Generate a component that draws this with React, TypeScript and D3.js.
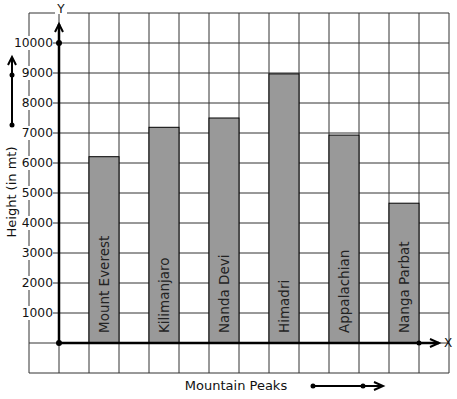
import * as d3 from "d3";
import React from "react";

// mountains and their heights (in mt)
const peaks: string[] = ["Mount Everest", "Kilimanjaro", "Nanda Devi", "Himadri", "Appalachian", "Nanga Parbat"];
const heights: number[] = [6210, 7190, 7500, 8970, 6930, 4660];
const yTicks: number[] = [1000, 2000, 3000, 4000, 5000, 6000, 7000, 8000, 9000, 10000];

const W = 457;
const H = 399;
const FONT = "DejaVu Sans, sans-serif";

const App = () => {
  // one grid cell = one unit on x, 1000 on y
  const x = d3.scaleLinear().domain([-1, 13]).range([29, 449]);
  const y = d3.scaleLinear().domain([-1000, 11000]).range([373, 13]);
  const cols = d3.range(-1, 14);
  const rows = d3.range(-1000, 11001, 1000);
  const x0 = x(0);
  const y0 = y(0);

  const chevronUp = (cx: number, cy: number) => `M${cx - 4},${cy + 8}L${cx},${cy}L${cx + 4},${cy + 8}`;
  const chevronRight = (cx: number, cy: number) => `M${cx - 9},${cy - 4}L${cx},${cy}L${cx - 9},${cy + 4}`;

  return (
    <svg width={W} height={H} style={{ position: "absolute", left: 0, top: 0, background: "#fff" }}>
      <rect width={W} height={H} fill="#fff" />
      {/* grid */}
      <g stroke="#333" strokeWidth={1}>
        {cols.map((c) => (
          <line key={"c" + c} x1={x(c)} x2={x(c)} y1={y(11000)} y2={y(-1000)} />
        ))}
        {rows.map((r) => (
          <line key={"r" + r} x1={x(-1)} x2={x(13)} y1={y(r)} y2={y(r)} />
        ))}
      </g>

      {/* bars */}
      {peaks.map((p, i) => {
        const c = 1 + 2 * i;
        return (
          <g key={p}>
            <rect x={x(c)} y={y(heights[i])} width={x(c + 1) - x(c)} height={y0 - y(heights[i])}
              fill="#999" stroke="#000" strokeWidth={1} />
            <text transform={`translate(${(x(c) + x(c + 1)) / 2 + 5},${y0 - 10}) rotate(-90)`}
              fontFamily={FONT} fontSize={13.5} fill="#222">{p}</text>
          </g>
        );
      })}

      {/* y tick labels with white backing */}
      {yTicks.map((t) => {
        const w = String(t).length * 7.8;
        return (
          <g key={t}>
            <rect x={53 - w - 1} y={y(t) - 7} width={w + 1} height={14} fill="#fff" />
            <text x={53} y={y(t)} dy="0.35em" textAnchor="end" fontFamily={FONT} fontSize={12.3} fill="#111">{t}</text>
          </g>
        );
      })}

      {/* axes */}
      <g stroke="#000" strokeWidth={2.5} fill="none">
        <line x1={x0} x2={x0} y1={y0} y2={24} />
        <path d={chevronUp(x0, 24)} strokeWidth={2} />
        <line x1={x0} x2={439} y1={y0} y2={y0} />
        <path d={chevronRight(439, y0)} strokeWidth={2} />
      </g>
      <circle cx={x0} cy={y0} r={3} fill="#000" />
      <circle cx={x0} cy={y(10000)} r={3} fill="#000" />
      <circle cx={x(12)} cy={y0} r={2.5} fill="#000" />

      <rect x={55} y={2} width={12} height={12} fill="#fff" />
      <text x={61} y={9} dy="0.35em" textAnchor="middle" fontFamily={FONT} fontSize={12} fill="#111">Y</text>
      <text x={448} y={y0} dy="0.35em" textAnchor="middle" fontFamily={FONT} fontSize={12} fill="#111">X</text>

      {/* axis titles */}
      <text transform={`translate(16,${192}) rotate(-90)`} textAnchor="middle" fontFamily={FONT} fontSize={13} fill="#111">
        Height (in mt)
      </text>
      <text x={236} y={390} textAnchor="middle" fontFamily={FONT} fontSize={13} fill="#111">Mountain Peaks</text>

      {/* direction arrows */}
      <g stroke="#000" strokeWidth={2} fill="none">
        <line x1={12} x2={12} y1={125} y2={58} />
        <path d={chevronUp(12, 57)} />
        <line x1={313} x2={383} y1={386} y2={386} />
        <path d={chevronRight(383, 386)} />
      </g>
      <circle cx={12} cy={75} r={2.5} fill="#000" />
      <circle cx={12} cy={125} r={2.5} fill="#000" />
      <circle cx={313} cy={386} r={2.5} fill="#000" />
      <circle cx={363} cy={386} r={2.5} fill="#000" />
    </svg>
  );
};

export default App;
